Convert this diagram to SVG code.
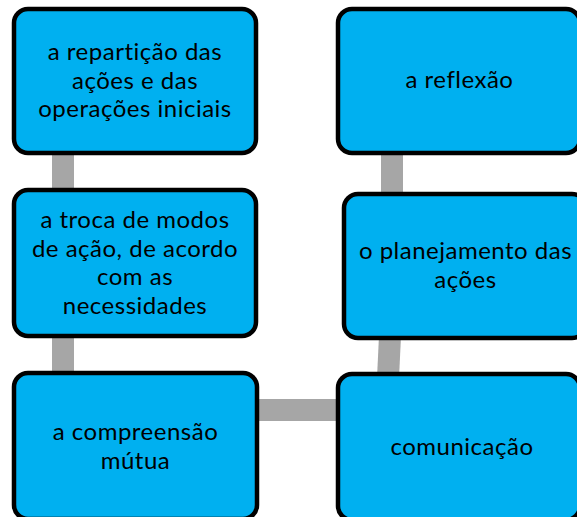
<svg xmlns="http://www.w3.org/2000/svg" width="577" height="517" viewBox="0 0 577 517">
<style>
.box{fill:#00B0F0;stroke:#000;stroke-width:4.5}
.lbl{font-family:Lato,"Open Sans","Liberation Sans",sans-serif;font-size:24px;letter-spacing:0.5px;font-variant-ligatures:none;fill:#000;text-anchor:middle}
.con{stroke:#A6A6A6;stroke-width:22;fill:none}
</style>
<rect width="577" height="517" fill="#fff"/>
<g id="connectors">
<line class="con" x1="63" y1="150" x2="63" y2="194"/>
<line class="con" x1="63" y1="334" x2="63" y2="377"/>
<line class="con" x1="254" y1="410" x2="341" y2="410"/>
<line class="con" x1="392" y1="150" x2="392" y2="198"/>
<line class="con" x1="390" y1="336" x2="388" y2="378"/>
</g>
<g id="n1"><rect class="box" x="14" y="9" width="242" height="144" rx="14"/>
<text class="lbl" x="135" y="60">a repartição das</text><text class="lbl" x="135" y="88.5">ações e das</text><text class="lbl" x="135" y="117">operações iniciais</text></g>
<g id="n2"><rect class="box" x="14" y="190" width="242" height="146" rx="14"/>
<text class="lbl" x="135" y="228">a troca de modos</text><text class="lbl" x="135" y="256.5">de ação, de acordo</text><text class="lbl" x="135" y="285">com as</text><text class="lbl" x="135" y="313.5">necessidades</text></g>
<g id="n3"><rect class="box" x="14" y="373" width="243" height="146" rx="14"/>
<text class="lbl" x="135.5" y="440">a compreensão</text><text class="lbl" x="135.5" y="469">mútua</text></g>
<g id="n4"><rect class="box" x="338" y="374" width="242" height="146" rx="14"/>
<text class="lbl" x="462" y="455">comunicação</text></g>
<g id="n5"><rect class="box" x="344" y="194" width="242" height="144" rx="14"/>
<text class="lbl" x="465.5" y="259">o planejamento das</text><text class="lbl" x="465.5" y="288">ações</text></g>
<g id="n6"><rect class="box" x="338" y="9" width="242" height="144" rx="14"/>
<text class="lbl" x="459.5" y="88">a reflexão</text></g>
</svg>
